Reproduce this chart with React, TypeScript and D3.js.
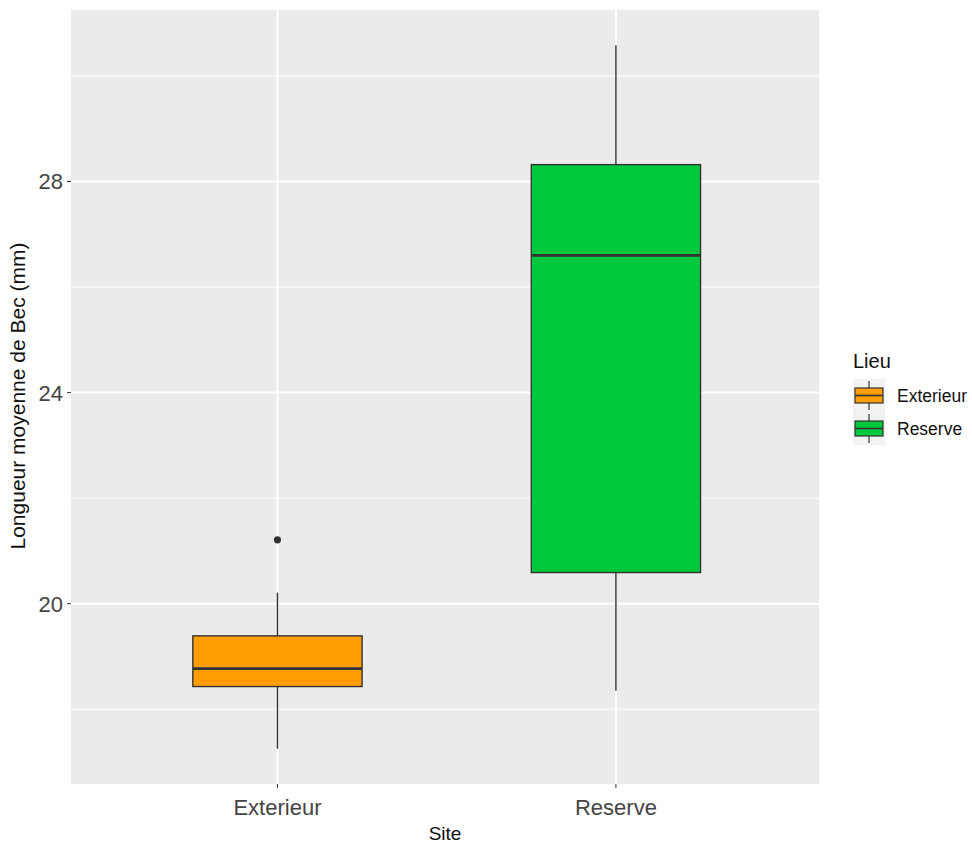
import React from "react";
import * as d3 from "d3";

const categories = ["Exterieur", "Reserve"];
const lowerWhisker = [17.25, 18.35];
const q1 = [18.43, 20.59];
const median = [18.77, 26.6];
const q3 = [19.39, 28.32];
const upperWhisker = [20.21, 30.58];
const outliers = [[21.21], []];
const fills = ["#FF9E00", "#00C83E"];
const yTicks = [20, 24, 28];
const yMinor = [18, 22, 26, 30];

const W = 972, H = 845;
const PL = 71, PR = 819, PT = 10, PB = 784;

export default function App() {
  const x = d3.scaleLinear().domain([0.39, 2.6]).range([PL, PR]);
  const y = d3.scaleLinear().domain([16.583, 31.25]).range([PB, PT]);
  const bw = x(1.5) - x(1);
  const half = bw / 2;
  const tickColor = "#333333";
  const textColor = "#444444";
  const font = "'Liberation Sans', Arial, sans-serif";
  return (
    <svg width={W} height={H} style={{ position: "absolute", left: 0, top: 0, background: "#fff" }} fontFamily={font}>
      <rect x={PL} y={PT} width={PR - PL} height={PB - PT} fill="#EBEBEB" />
      {yMinor.map((v) => (
        <line key={"m" + v} x1={PL} x2={PR} y1={y(v)} y2={y(v)} stroke="#fff" strokeWidth={1} />
      ))}
      {yTicks.map((v) => (
        <line key={"M" + v} x1={PL} x2={PR} y1={y(v)} y2={y(v)} stroke="#fff" strokeWidth={2} />
      ))}
      {categories.map((c, i) => (
        <line key={"v" + c} x1={x(i + 1)} x2={x(i + 1)} y1={PT} y2={PB} stroke="#fff" strokeWidth={2} />
      ))}
      {categories.map((c, i) => {
        const cx = x(i + 1);
        return (
          <g key={c}>
            <line x1={cx} x2={cx} y1={y(upperWhisker[i])} y2={y(q3[i])} stroke={tickColor} strokeWidth={1.4} />
            <line x1={cx} x2={cx} y1={y(q1[i])} y2={y(lowerWhisker[i])} stroke={tickColor} strokeWidth={1.4} />
            <rect x={cx - half} y={y(q3[i])} width={bw} height={y(q1[i]) - y(q3[i])} fill={fills[i]} stroke={tickColor} strokeWidth={1.4} />
            <line x1={cx - half} x2={cx + half} y1={y(median[i])} y2={y(median[i])} stroke={tickColor} strokeWidth={2.8} />
            {outliers[i].map((o, j) => (
              <circle key={j} cx={cx} cy={y(o)} r={3.6} fill={tickColor} />
            ))}
          </g>
        );
      })}
      {yTicks.map((v) => (
        <g key={"yt" + v}>
          <line x1={PL - 4} x2={PL} y1={y(v)} y2={y(v)} stroke={tickColor} strokeWidth={1} />
          <text x={PL - 8} y={y(v)} dy="0.36em" textAnchor="end" fontSize={22} fill={textColor}>{v}</text>
        </g>
      ))}
      {categories.map((c, i) => (
        <g key={"xt" + c}>
          <line x1={x(i + 1)} x2={x(i + 1)} y1={PB} y2={PB + 4} stroke={tickColor} strokeWidth={1} />
          <text x={x(i + 1)} y={815} textAnchor="middle" fontSize={22} fill={textColor}>{c}</text>
        </g>
      ))}
      <text x={(PL + PR) / 2} y={840} textAnchor="middle" fontSize={19} fill="#111">Site</text>
      <text transform={`translate(25,${396}) rotate(-90)`} textAnchor="middle" fontSize={21} fill="#111">Longueur moyenne de Bec (mm)</text>
      <text x={853} y={368} fontSize={20} fill="#111">Lieu</text>
      {categories.map((c, i) => {
        const ky = 379 + i * 33;
        const kx = 853;
        return (
          <g key={"lg" + c}>
            <rect x={kx} y={ky} width={32} height={33} fill="#F2F2F2" />
            <line x1={kx + 16} x2={kx + 16} y1={ky + 2} y2={ky + 31} stroke={tickColor} strokeWidth={1.2} />
            <rect x={kx + 2} y={ky + 9} width={28} height={15} fill={fills[i]} stroke={tickColor} strokeWidth={1.2} />
            <line x1={kx + 2} x2={kx + 30} y1={ky + 16.5} y2={ky + 16.5} stroke={tickColor} strokeWidth={1.6} />
            <text x={kx + 44} y={ky + 16.5} dy="0.36em" fontSize={17.5} fill="#111">{c}</text>
          </g>
        );
      })}
    </svg>
  );
}
